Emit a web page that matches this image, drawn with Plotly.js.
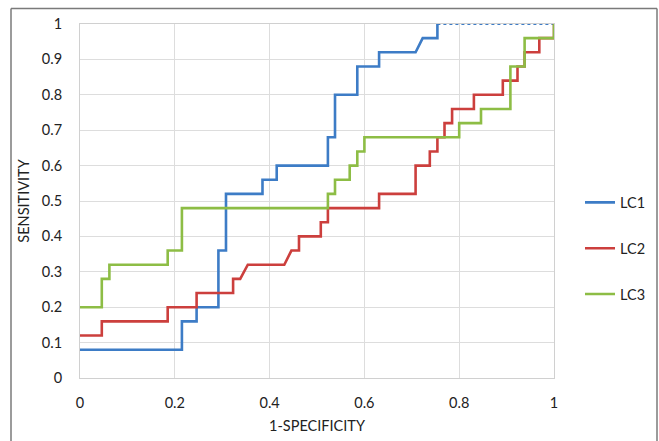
<!DOCTYPE html>
<html>
<head>
<meta charset="utf-8">
<script src="https://cdn.plot.ly/plotly-3.0.1.min.js"></script>
<style>
  html, body { margin: 0; padding: 0; background: #ffffff; }
  #chart { width: 659px; height: 441px; }
</style>
</head>
<body>
<div id="chart"></div>
<script>
// ROC curves
const lc1X = [0, 0.215, 0.215, 0.246, 0.246, 0.292, 0.292, 0.308, 0.308, 0.385, 0.385, 0.415, 0.415, 0.523, 0.523, 0.538, 0.538, 0.585, 0.585, 0.631, 0.631, 0.708, 0.723, 0.754, 0.754];
const lc1Y = [0.08, 0.08, 0.16, 0.16, 0.2, 0.2, 0.36, 0.36, 0.52, 0.52, 0.56, 0.56, 0.6, 0.6, 0.68, 0.68, 0.8, 0.8, 0.88, 0.88, 0.92, 0.92, 0.96, 0.96, 1.0];
const lc1TailX = [0.754, 1];
const lc1TailY = [1, 1];

const lc2X = [0, 0.046, 0.046, 0.185, 0.185, 0.246, 0.246, 0.323, 0.323, 0.338, 0.354, 0.431, 0.446, 0.462, 0.462, 0.508, 0.508, 0.523, 0.523, 0.631, 0.631, 0.708, 0.708, 0.738, 0.738, 0.754, 0.754, 0.769, 0.769, 0.785, 0.785, 0.831, 0.831, 0.892, 0.892, 0.923, 0.923, 0.938, 0.938, 0.969, 0.969, 1, 1];
const lc2Y = [0.12, 0.12, 0.16, 0.16, 0.2, 0.2, 0.24, 0.24, 0.28, 0.28, 0.32, 0.32, 0.36, 0.36, 0.4, 0.4, 0.44, 0.44, 0.48, 0.48, 0.52, 0.52, 0.6, 0.6, 0.64, 0.64, 0.68, 0.68, 0.72, 0.72, 0.76, 0.76, 0.8, 0.8, 0.84, 0.84, 0.88, 0.88, 0.92, 0.92, 0.96, 0.96, 1];

const lc3X = [0, 0.046, 0.046, 0.062, 0.062, 0.185, 0.185, 0.215, 0.215, 0.523, 0.523, 0.538, 0.538, 0.569, 0.569, 0.585, 0.585, 0.6, 0.6, 0.8, 0.8, 0.846, 0.846, 0.908, 0.908, 0.938, 0.938, 1, 1];
const lc3Y = [0.2, 0.2, 0.28, 0.28, 0.32, 0.32, 0.36, 0.36, 0.48, 0.48, 0.52, 0.52, 0.56, 0.56, 0.6, 0.6, 0.64, 0.64, 0.68, 0.68, 0.72, 0.72, 0.76, 0.76, 0.88, 0.88, 0.96, 0.96, 1];

const seriesNames = ['LC1', 'LC2', 'LC3'];
const xTickVals = [0, 0.2, 0.4, 0.6, 0.8, 1];
const xTickText = ['0', '0.2', '0.4', '0.6', '0.8', '1'];
const yTickVals = [0, 0.1, 0.2, 0.3, 0.4, 0.5, 0.6, 0.7, 0.8, 0.9, 1];
const yTickText = ['0', '0.1', '0.2', '0.3', '0.4', '0.5', '0.6', '0.7', '0.8', '0.9', '1'];

const colors = ['#3d7cc6', '#cc3f3d', '#8dbd45'];
const FONT = 'Lato, "Open Sans", "Liberation Sans", sans-serif';

const traces = [
  { x: lc1TailX, y: lc1TailY, mode: 'lines', line: { color: colors[0], width: 2, dash: 'dot' }, showlegend: false, hoverinfo: 'skip' },
  { x: lc1X, y: lc1Y, name: seriesNames[0], legendgroup: 'a', mode: 'lines', line: { color: colors[0], width: 2.6 } },
  { x: lc2X, y: lc2Y, name: seriesNames[1], legendgroup: 'b', mode: 'lines', line: { color: colors[1], width: 2.6 } },
  { x: lc3X, y: lc3Y, name: seriesNames[2], legendgroup: 'c', mode: 'lines', line: { color: colors[2], width: 2.6 } }
];

const L = 80, R = 105, T = 23.5, B = 63.3;
const W = 659 - L - R, H = 441 - T - B;
const px = p => (p - L) / W;
const py = p => (441 - B - p) / H;

const layout = {
  width: 659, height: 441,
  margin: { l: L, r: R, t: T, b: B, pad: 0, autoexpand: false },
  paper_bgcolor: '#ffffff', plot_bgcolor: '#ffffff',
  font: { family: FONT, size: 14, color: '#222222' },
  xaxis: {
    range: [0, 1], tickvals: xTickVals, ticktext: xTickText,
    showgrid: true, gridcolor: '#dddddd', gridwidth: 1,
    showline: true, linecolor: '#d0d0d0', linewidth: 1, mirror: true,
    zeroline: false, ticks: '', ticklabelstandoff: 12,
    tickfont: { family: FONT, size: 14.5, color: '#222222' },
    title: { text: '1-SPECIFICITY', font: { family: FONT, size: 14.5, color: '#222222' }, standoff: 10 }
  },
  yaxis: {
    range: [0, 1], tickvals: yTickVals, ticktext: yTickText,
    showgrid: true, gridcolor: '#dddddd', gridwidth: 1,
    showline: true, linecolor: '#d0d0d0', linewidth: 1, mirror: true,
    zeroline: false, ticks: '', ticklabelstandoff: 14,
    tickfont: { family: FONT, size: 14.5, color: '#222222' },
    title: { text: 'SENSITIVITY', font: { family: FONT, size: 14.5, color: '#222222' }, standoff: 8 }
  },
  legend: {
    x: px(580), y: py(186), xanchor: 'left', yanchor: 'top',
    traceorder: 'grouped', tracegroupgap: 24,
    font: { family: FONT, size: 14.5, color: '#222222' },
    bgcolor: 'rgba(0,0,0,0)', borderwidth: 0
  },
  shapes: [
    { type: 'line', xref: 'paper', yref: 'paper', x0: px(11), x1: px(11), y0: py(8), y1: py(450), line: { color: '#7a7a7a', width: 1.5 } },
    { type: 'line', xref: 'paper', yref: 'paper', x0: px(11), x1: px(657), y0: py(8), y1: py(8), line: { color: '#7a7a7a', width: 1.5 } },
    { type: 'line', xref: 'paper', yref: 'paper', x0: px(657), x1: px(657), y0: py(8), y1: py(450), line: { color: '#7a7a7a', width: 1.5 } }
  ],
  showlegend: true
};

Plotly.newPlot('chart', traces, layout, { displayModeBar: false, staticPlot: true });
</script>
</body>
</html>
